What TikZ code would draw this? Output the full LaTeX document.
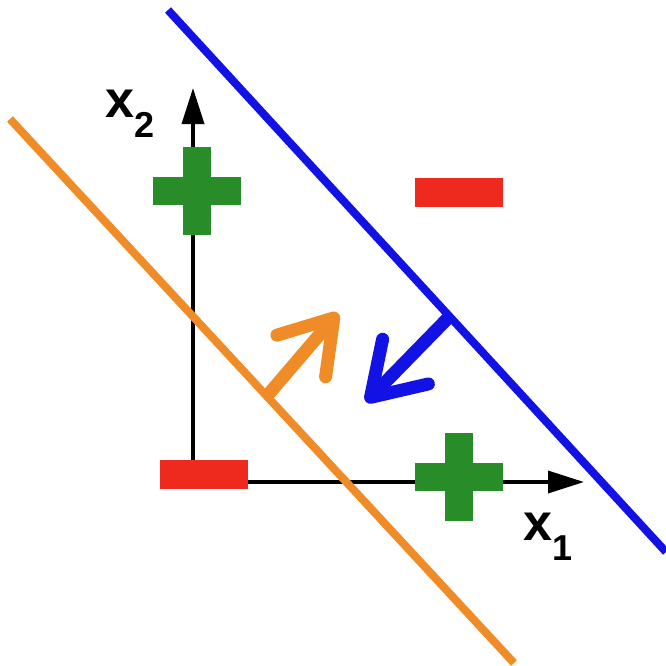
\documentclass[tikz,border=0pt]{standalone}
\usepackage{fontspec}
\setmainfont{Liberation Sans}
\usepackage{xcolor}
\usetikzlibrary{arrows.meta}

\definecolor{lineblue}{RGB}{18,18,228}
\definecolor{lineorange}{RGB}{240,140,40}
\definecolor{markgreen}{RGB}{40,140,40}
\definecolor{markred}{RGB}{238,42,30}

\newcommand{\axsub}[1]{\raisebox{-20pt}{\fontsize{36}{36}\selectfont #1}}

\begin{document}
\begin{tikzpicture}[x=1pt,y=-1pt]
\tikzstyle{minusmark} = [rectangle, fill=markred, minimum width=88pt, minimum height=29pt, inner sep=0pt]
\tikzstyle{plusmark} = [rectangle, minimum size=88pt, inner sep=0pt,
  path picture={\fill[markgreen] ([xshift=-14pt]path picture bounding box.north) rectangle ([xshift=14pt]path picture bounding box.south);
                \fill[markgreen] ([yshift=14pt]path picture bounding box.west) rectangle ([yshift=-14pt]path picture bounding box.east);}]
\tikzstyle{axis} = [line width=3.5pt, -{Triangle[length=36pt,width=22pt]}]
\tikzstyle{axislabel} = [font=\fontsize{52}{52}\selectfont\bfseries, inner sep=0pt, anchor=base west]
\tikzstyle{boundary} = [line width=8pt]
\tikzstyle{normal} = [line width=13pt, -{Straight Barb[round,line width=13pt,length=50pt,width=64pt]}]

\useasboundingbox (0,0) rectangle (666,665);

% axes
\coordinate (origin) at (193,482);
\coordinate (x1end) at (584,482);
\coordinate (x2end) at (193,88);
\draw [axis] (origin) -- (x1end);
\draw [axis] (origin) -- (x2end);

\node (x1label) [axislabel] at (523,540) {x\axsub{1}};
\node (x2label) [axislabel] at (105,117) {x\axsub{2}};

% samples
\node (neg_origin) [minusmark] at (204,474) {};
\node (neg_far) [minusmark] at (459,192) {};
\node (pos_top) [plusmark] at (197,191) {};
\node (pos_right) [plusmark] at (459,477) {};

% two separating lines
\coordinate (blue_a) at (168,10);
\coordinate (blue_b) at (666,552);
\coordinate (orange_a) at (10,119);
\coordinate (orange_b) at (514,663);
\draw [boundary, lineblue] (blue_a) -- (blue_b);
\draw [boundary, lineorange] (orange_a) -- (orange_b);

% normal vectors
\coordinate (orange_foot) at (267,396);
\coordinate (orange_tip) at (338,313);
\coordinate (blue_foot) at (450,316);
\coordinate (blue_tip) at (366,402);
\draw [normal, lineorange] (orange_foot) -- (orange_tip);
\draw [normal, lineblue] (blue_foot) -- (blue_tip);

\end{tikzpicture}
\end{document}
